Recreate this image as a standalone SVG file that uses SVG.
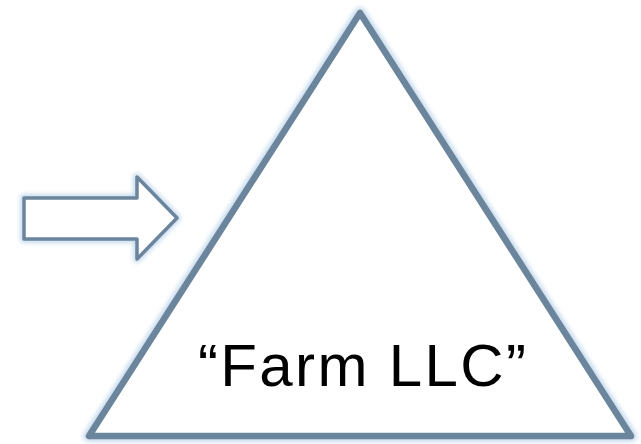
<svg xmlns="http://www.w3.org/2000/svg" width="641" height="444" viewBox="0 0 641 444">
  <defs>
    <filter id="glow" x="-10%" y="-10%" width="120%" height="120%">
      <feGaussianBlur stdDeviation="2"/>
    </filter>
    <style>
      .halo { fill: none; stroke: #c9dcee; stroke-linejoin: round; filter: url(#glow); }
      .edge { fill: #ffffff; stroke: #6b859c; stroke-linejoin: round; }
      .label { font-family: "Liberation Sans", Arial, sans-serif; font-size: 60px; fill: #000000; }
    </style>
  </defs>
  <rect width="641" height="444" fill="#ffffff"/>

  <!-- block arrow pointing at the entity -->
  <g id="arrow">
    <polygon class="halo" stroke-width="8" points="24,198 137,198 137,177 177,218 137,259 137,239 24,239"/>
    <polygon class="edge" stroke-width="3.5" points="24,198 137,198 137,177 177,218 137,259 137,239 24,239"/>
  </g>

  <!-- entity triangle with its name -->
  <g id="farm-llc">
    <polygon class="halo" stroke-width="12" points="360,13 89,436 631,436"/>
    <polygon class="edge" stroke-width="6.5" points="360,13 89,436 631,436"/>
    <text class="label" x="198" y="386" textLength="328" lengthAdjust="spacing">“Farm LLC”</text>
  </g>
</svg>
